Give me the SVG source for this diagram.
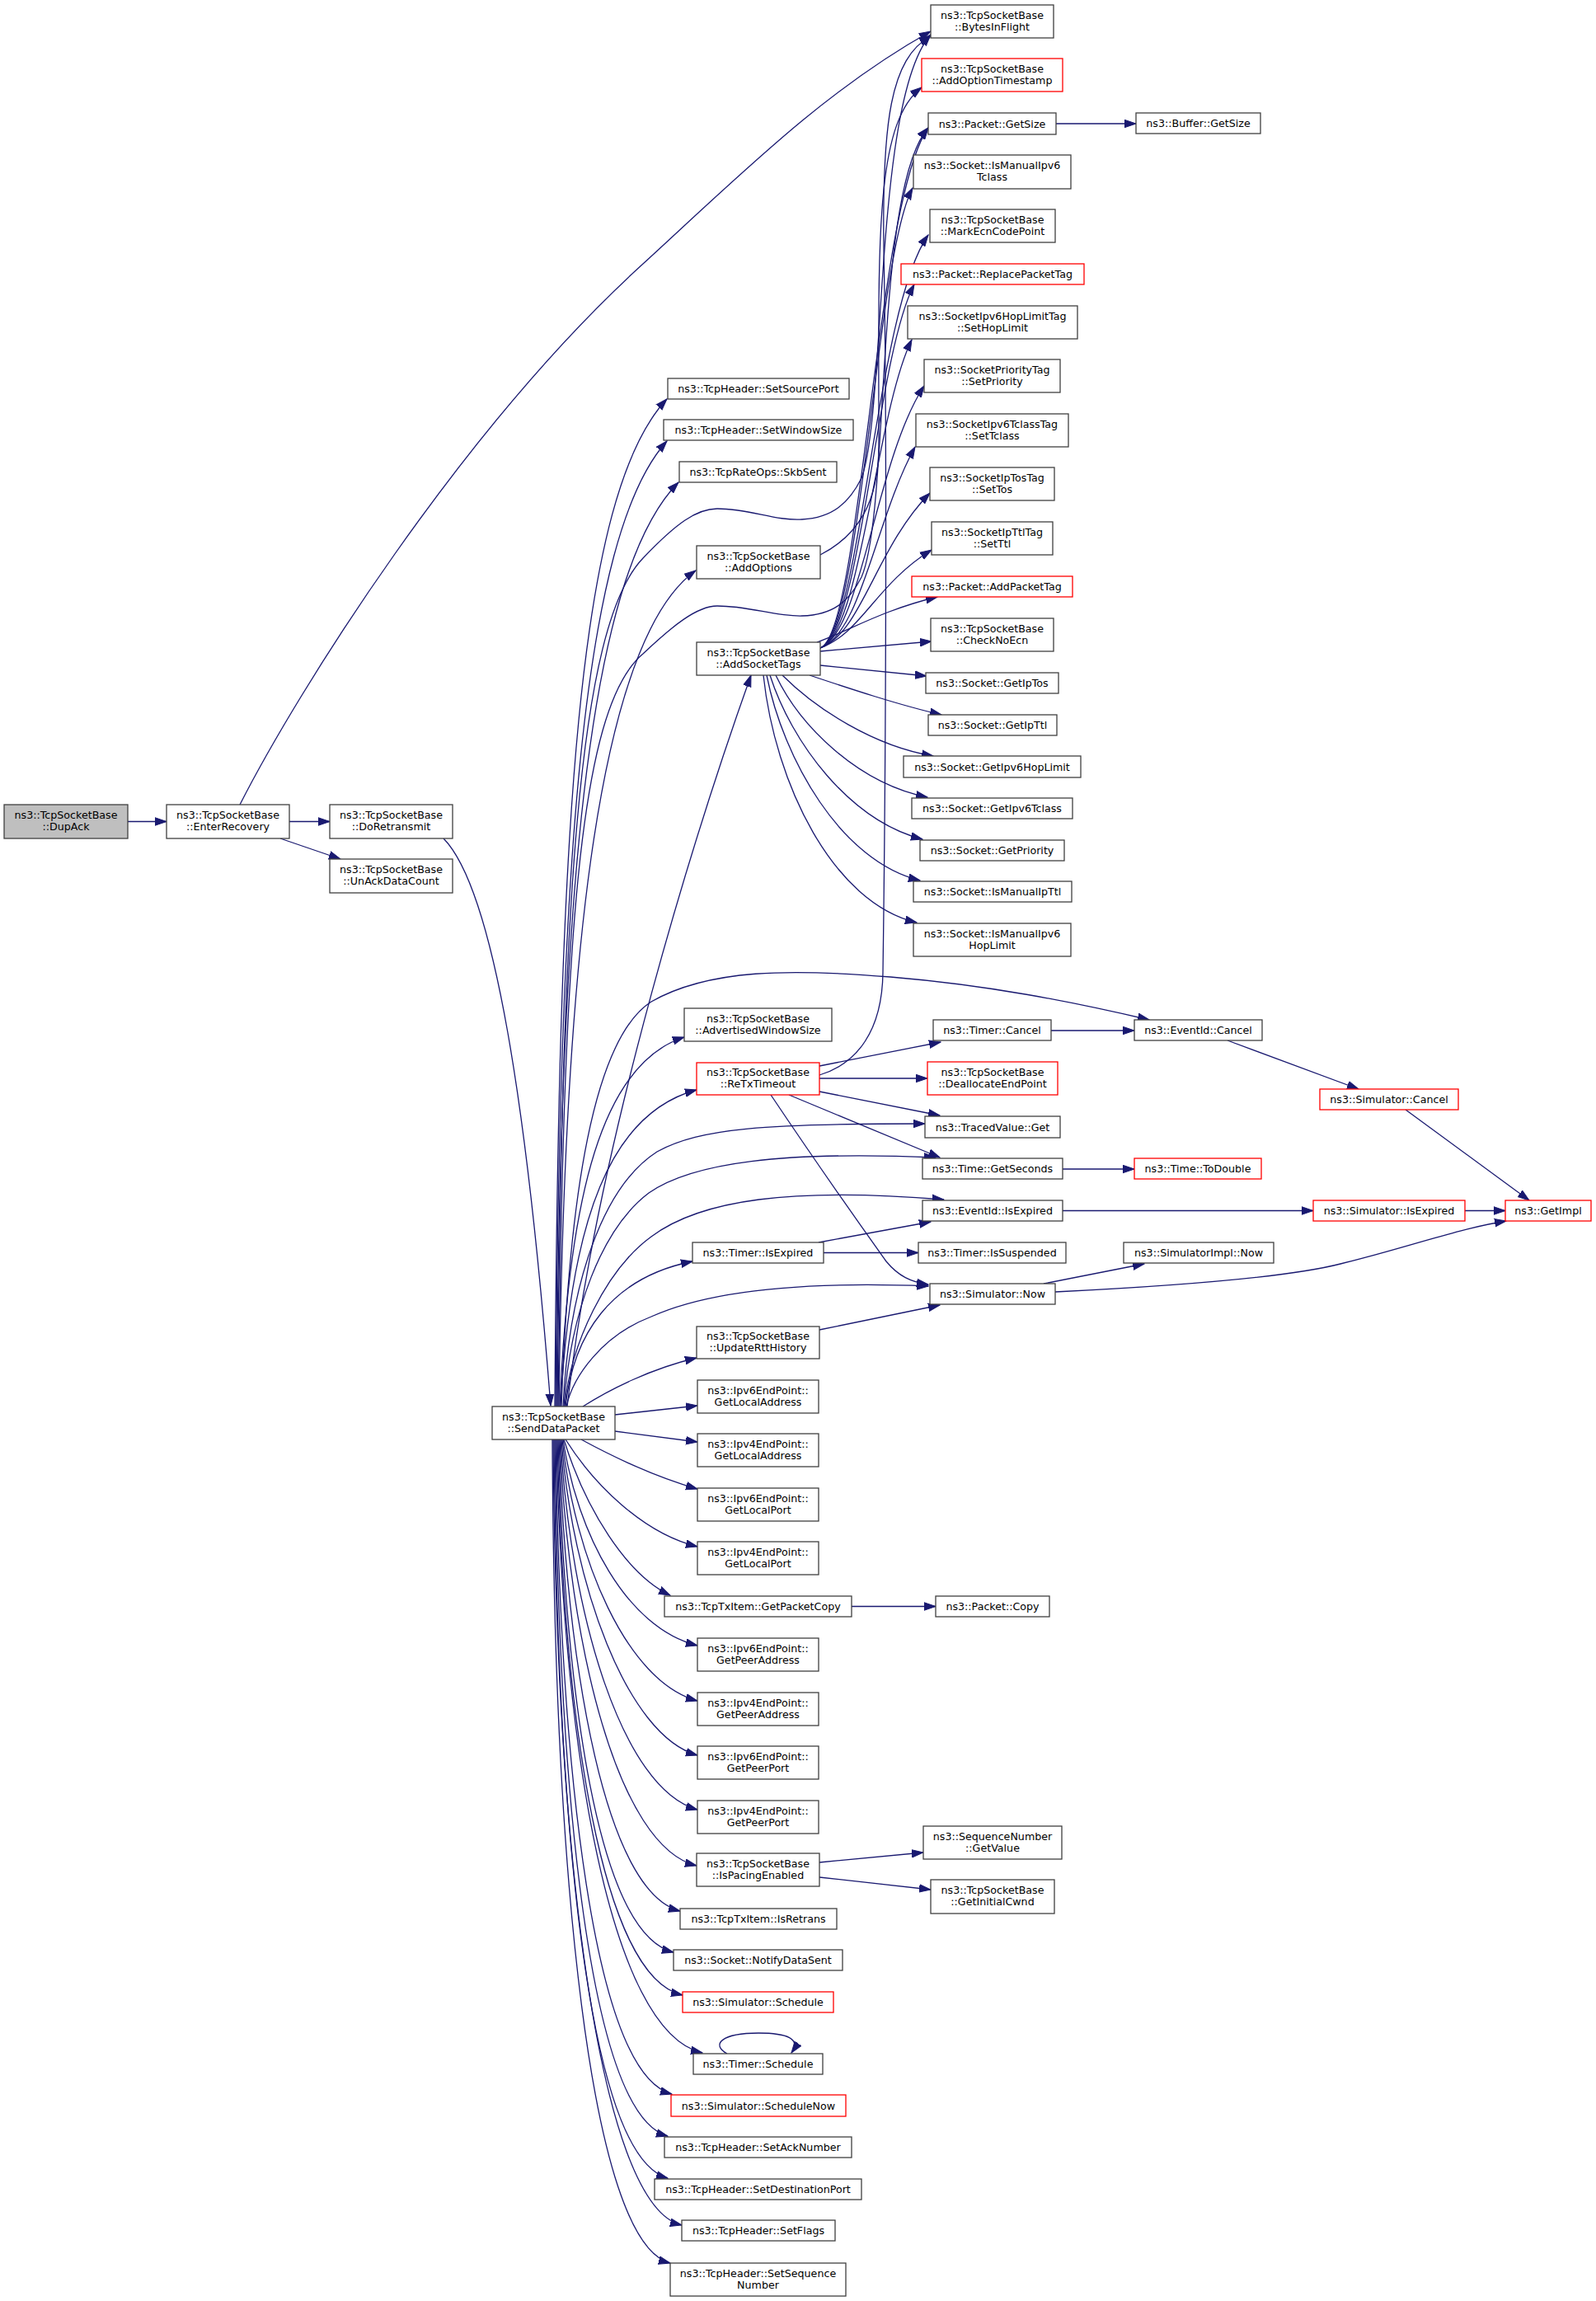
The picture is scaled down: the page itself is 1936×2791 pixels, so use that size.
<svg xmlns="http://www.w3.org/2000/svg" width="1936" height="2791" viewBox="0 0 1936 2791">
<style>
.n rect{fill:#fff;stroke:#404040;stroke-width:1.3}
.r rect{stroke:#ff0000}
.g rect{fill:#bfbfbf}
text{font-family:"DejaVu Sans","Liberation Sans",sans-serif;font-size:12.67px;text-anchor:middle;fill:#000}
#edges path{fill:none;stroke:#191970;stroke-width:1.3;marker-end:url(#a)}
</style>
<defs>
<marker id="a" markerUnits="userSpaceOnUse" markerWidth="15" markerHeight="11" viewBox="0 0 15 11" refX="14" refY="5.5" orient="auto">
<path d="M0,0.75 L14,5.5 L0,10.25 z" fill="#191970" stroke="#191970" stroke-width="1"/>
</marker>
</defs>
<rect width="1936" height="2791" fill="#fff"/>
<g id="edges">
<path d="M155,996.5 L202,996.5"/>
<path d="M291,976 C360,840 560,520 780,320 C900,210 1000,110 1129,38"/>
<path d="M351,996.5 L400,996.5"/>
<path d="M340,1017 L413,1042"/>
<path d="M538,1017 C600,1080 640,1350 668,1705"/>
<path d="M673,1706 C678,1000 700,600 809,484"/>
<path d="M674,1706 C679,1050 705,650 809,535"/>
<path d="M675,1706 C680,1100 710,700 823,585"/>
<path d="M676,1706 C682,1100 700,760 780,677 C820,635 845,617 870,617 C910,617 940,632 973,630 C1010,628 1030,610 1045,580 C1075,500 1060,120 1129,42"/>
<path d="M677,1706 C684,1150 700,860 780,793 C815,760 845,735 870,735 C910,735 940,748 973,747 C1010,746 1030,730 1045,700 C1080,620 1060,230 1126,155"/>
<path d="M678,1706 C684,1200 720,780 844,692"/>
<path d="M688,1706 C725,1380 850,990 911,819"/>
<path d="M679,1706 C690,1450 730,1290 830,1258"/>
<path d="M680,1706 C692,1480 740,1350 845,1322"/>
<path d="M681,1706 C690,1450 720,1260 790,1215 C860,1175 960,1175 1080,1185 C1200,1195 1300,1215 1394,1237"/>
<path d="M683,1706 C690,1560 730,1440 797,1397 C850,1368 930,1363 1122,1363"/>
<path d="M684,1706 C692,1590 730,1490 787,1447 C840,1410 950,1396 1135,1404"/>
<path d="M685,1706 C692,1630 735,1540 790,1500 C850,1455 960,1440 1145,1455"/>
<path d="M686,1706 C695,1620 740,1550 840,1530"/>
<path d="M687,1706 C695,1670 730,1620 790,1597 C850,1570 950,1553 1126,1560"/>
<path d="M707,1706 C740,1685 790,1660 845,1647"/>
<path d="M746,1716 L846,1705"/>
<path d="M746,1736 L846,1749"/>
<path d="M705,1746 C740,1765 790,1790 846,1806"/>
<path d="M686,1746 C720,1800 780,1860 846,1876"/>
<path d="M684,1746 C710,1830 760,1910 813,1935"/>
<path d="M683,1746 C700,1860 760,1975 846,1996"/>
<path d="M682,1746 C697,1890 760,2040 846,2063"/>
<path d="M681,1746 C694,1920 760,2105 846,2129"/>
<path d="M680,1746 C692,1960 755,2170 846,2195"/>
<path d="M679,1746 C690,2000 750,2240 845,2263"/>
<path d="M678,1746 C688,2030 735,2295 825,2318"/>
<path d="M677,1746 C686,2060 725,2345 817,2368"/>
<path d="M676,1746 C684,2090 730,2398 828,2420"/>
<path d="M675,1746 C682,2120 740,2465 852,2490"/>
<path d="M674,1746 C680,2150 720,2515 815,2540"/>
<path d="M673,1746 C678,2180 715,2565 810,2591"/>
<path d="M672,1746 C676,2210 712,2615 810,2642"/>
<path d="M671,1746 C674,2240 725,2675 827,2699"/>
<path d="M670,1746 C672,2270 715,2720 813,2745"/>
<path d="M995,673 C1040,650 1066,610 1066,540 C1066,300 1060,150 1118,106"/>
<path d="M994,1304 C1040,1290 1070,1250 1071,1180 C1075,900 1076,500 1072,300 C1070,150 1080,70 1129,44"/>
<path d="M995,786 C1045,768 1062,245 1126,155"/>
<path d="M995,786 C1045,768 1062,313 1107,228"/>
<path d="M995,786 C1045,768 1062,375 1126,285"/>
<path d="M995,786 C1045,768 1062,435 1109,345"/>
<path d="M995,786 C1045,768 1062,502 1106,412"/>
<path d="M995,786 C1045,768 1062,558 1121,468"/>
<path d="M995,786 C1045,768 1062,629 1110,542"/>
<path d="M995,786 C1045,768 1062,665 1128,598"/>
<path d="M995,786 C1045,768 1062,709 1130,667"/>
<path d="M991,779 C1030,765 1070,740 1137,724"/>
<path d="M995,790 L1130,778"/>
<path d="M995,807 L1124,820"/>
<path d="M982,819 C1030,835 1090,855 1142,867"/>
<path d="M949,819 C990,860 1060,905 1132,917"/>
<path d="M941,819 C970,880 1040,950 1125,967"/>
<path d="M934,819 C960,900 1030,995 1119,1018"/>
<path d="M930,819 C950,920 1020,1045 1116,1068"/>
<path d="M926,819 C940,950 1010,1095 1112,1119"/>
<path d="M994,1293 L1141,1264"/>
<path d="M994,1308 L1125,1308"/>
<path d="M994,1324 L1140,1353"/>
<path d="M957,1328 L1140,1404"/>
<path d="M935,1328 C990,1410 1050,1495 1075,1530 C1090,1548 1105,1555 1126,1558"/>
<path d="M1275,1250 L1376,1250"/>
<path d="M1489,1262 L1648,1321"/>
<path d="M1705,1346 L1855,1456"/>
<path d="M1289,1418 L1376,1418"/>
<path d="M1289,1468.5 L1593,1468.5"/>
<path d="M1777,1468.5 L1826,1468.5"/>
<path d="M993,1507 L1129,1482"/>
<path d="M999,1519.5 L1114,1519.5"/>
<path d="M1266,1557 L1388,1533"/>
<path d="M1280,1567 C1420,1560 1560,1550 1626,1533 C1700,1515 1770,1490 1827,1481"/>
<path d="M994,1613 L1140,1583"/>
<path d="M1033,1948.5 L1135,1948.5"/>
<path d="M994,2259 L1120,2247"/>
<path d="M994,2277 L1129,2292"/>
<path d="M1281,150 L1378,150"/>
<path d="M882,2491 C862,2480 875,2466 920,2466 C955,2466 972,2473 960,2490"/>
</g>
<g id="DupAck" class="n g"><rect x="5" y="976" width="150" height="41"/><text x="80" y="993">ns3::TcpSocketBase</text><text x="80" y="1007">::DupAck</text></g>
<g id="EnterRecovery" class="n"><rect x="202" y="976" width="149" height="41"/><text x="276.5" y="993">ns3::TcpSocketBase</text><text x="276.5" y="1007">::EnterRecovery</text></g>
<g id="DoRetransmit" class="n"><rect x="400" y="976" width="149" height="41"/><text x="474.5" y="993">ns3::TcpSocketBase</text><text x="474.5" y="1007">::DoRetransmit</text></g>
<g id="UnAckDataCount" class="n"><rect x="400" y="1042" width="149" height="41"/><text x="474.5" y="1059">ns3::TcpSocketBase</text><text x="474.5" y="1073">::UnAckDataCount</text></g>
<g id="BytesInFlight" class="n"><rect x="1129" y="6" width="149" height="40"/><text x="1203.5" y="22.5">ns3::TcpSocketBase</text><text x="1203.5" y="36.5">::BytesInFlight</text></g>
<g id="AddOptionTimestamp" class="n r"><rect x="1118" y="71" width="171" height="40"/><text x="1203.5" y="87.5">ns3::TcpSocketBase</text><text x="1203.5" y="101.5">::AddOptionTimestamp</text></g>
<g id="PacketGetSize" class="n"><rect x="1126" y="137" width="155" height="26"/><text x="1203.5" y="154.5">ns3::Packet::GetSize</text></g>
<g id="BufferGetSize" class="n"><rect x="1378" y="137" width="151" height="25"/><text x="1453.5" y="154">ns3::Buffer::GetSize</text></g>
<g id="IsManualIpv6Tclass" class="n"><rect x="1108" y="188" width="191" height="41"/><text x="1203.5" y="205">ns3::Socket::IsManualIpv6</text><text x="1203.5" y="219">Tclass</text></g>
<g id="MarkEcnCodePoint" class="n"><rect x="1128" y="254" width="152" height="40"/><text x="1204" y="270.5">ns3::TcpSocketBase</text><text x="1204" y="284.5">::MarkEcnCodePoint</text></g>
<g id="ReplacePacketTag" class="n r"><rect x="1093" y="320" width="222" height="25"/><text x="1204" y="337">ns3::Packet::ReplacePacketTag</text></g>
<g id="SetHopLimit" class="n"><rect x="1101" y="371" width="206" height="40"/><text x="1204" y="387.5">ns3::SocketIpv6HopLimitTag</text><text x="1204" y="401.5">::SetHopLimit</text></g>
<g id="SetPriority" class="n"><rect x="1121" y="436" width="165" height="40"/><text x="1203.5" y="452.5">ns3::SocketPriorityTag</text><text x="1203.5" y="466.5">::SetPriority</text></g>
<g id="SetTclass" class="n"><rect x="1111" y="502" width="185" height="40"/><text x="1203.5" y="518.5">ns3::SocketIpv6TclassTag</text><text x="1203.5" y="532.5">::SetTclass</text></g>
<g id="SetTos" class="n"><rect x="1128" y="567" width="151" height="40"/><text x="1203.5" y="583.5">ns3::SocketIpTosTag</text><text x="1203.5" y="597.5">::SetTos</text></g>
<g id="SetTtl" class="n"><rect x="1130" y="633" width="147" height="40"/><text x="1203.5" y="649.5">ns3::SocketIpTtlTag</text><text x="1203.5" y="663.5">::SetTtl</text></g>
<g id="AddPacketTag" class="n r"><rect x="1106" y="699" width="195" height="25"/><text x="1203.5" y="716">ns3::Packet::AddPacketTag</text></g>
<g id="CheckNoEcn" class="n"><rect x="1129" y="750" width="149" height="40"/><text x="1203.5" y="766.5">ns3::TcpSocketBase</text><text x="1203.5" y="780.5">::CheckNoEcn</text></g>
<g id="GetIpTos" class="n"><rect x="1123" y="816" width="161" height="25"/><text x="1203.5" y="833">ns3::Socket::GetIpTos</text></g>
<g id="GetIpTtl" class="n"><rect x="1126" y="867" width="156" height="25"/><text x="1204" y="884">ns3::Socket::GetIpTtl</text></g>
<g id="GetIpv6HopLimit" class="n"><rect x="1096" y="917" width="215" height="26"/><text x="1203.5" y="934.5">ns3::Socket::GetIpv6HopLimit</text></g>
<g id="GetIpv6Tclass" class="n"><rect x="1106" y="968" width="195" height="25"/><text x="1203.5" y="985">ns3::Socket::GetIpv6Tclass</text></g>
<g id="GetPriority" class="n"><rect x="1116" y="1019" width="175" height="25"/><text x="1203.5" y="1036">ns3::Socket::GetPriority</text></g>
<g id="IsManualIpTtl" class="n"><rect x="1108" y="1069" width="192" height="25"/><text x="1204" y="1086">ns3::Socket::IsManualIpTtl</text></g>
<g id="IsManualIpv6HopLimit" class="n"><rect x="1108" y="1120" width="191" height="40"/><text x="1203.5" y="1136.5">ns3::Socket::IsManualIpv6</text><text x="1203.5" y="1150.5">HopLimit</text></g>
<g id="SetSourcePort" class="n"><rect x="810" y="459" width="220" height="25"/><text x="920" y="476">ns3::TcpHeader::SetSourcePort</text></g>
<g id="SetWindowSize" class="n"><rect x="805" y="509" width="230" height="25"/><text x="920" y="526">ns3::TcpHeader::SetWindowSize</text></g>
<g id="SkbSent" class="n"><rect x="824" y="560" width="191" height="25"/><text x="919.5" y="577">ns3::TcpRateOps::SkbSent</text></g>
<g id="AddOptions" class="n"><rect x="845" y="662" width="150" height="40"/><text x="920" y="678.5">ns3::TcpSocketBase</text><text x="920" y="692.5">::AddOptions</text></g>
<g id="AddSocketTags" class="n"><rect x="845" y="779" width="150" height="40"/><text x="920" y="795.5">ns3::TcpSocketBase</text><text x="920" y="809.5">::AddSocketTags</text></g>
<g id="AdvertisedWindowSize" class="n"><rect x="830" y="1223" width="179" height="40"/><text x="919.5" y="1239.5">ns3::TcpSocketBase</text><text x="919.5" y="1253.5">::AdvertisedWindowSize</text></g>
<g id="ReTxTimeout" class="n r"><rect x="845" y="1289" width="149" height="39"/><text x="919.5" y="1305">ns3::TcpSocketBase</text><text x="919.5" y="1319">::ReTxTimeout</text></g>
<g id="TimerCancel" class="n"><rect x="1132" y="1237" width="143" height="25"/><text x="1203.5" y="1254">ns3::Timer::Cancel</text></g>
<g id="EventIdCancel" class="n"><rect x="1376" y="1237" width="155" height="25"/><text x="1453.5" y="1254">ns3::EventId::Cancel</text></g>
<g id="DeallocateEndPoint" class="n r"><rect x="1125" y="1288" width="158" height="40"/><text x="1204" y="1304.5">ns3::TcpSocketBase</text><text x="1204" y="1318.5">::DeallocateEndPoint</text></g>
<g id="SimulatorCancel" class="n r"><rect x="1601" y="1321" width="168" height="25"/><text x="1685" y="1338">ns3::Simulator::Cancel</text></g>
<g id="TracedValueGet" class="n"><rect x="1122" y="1354" width="164" height="26"/><text x="1204" y="1371.5">ns3::TracedValue::Get</text></g>
<g id="TimeGetSeconds" class="n"><rect x="1119" y="1405" width="170" height="25"/><text x="1204" y="1422">ns3::Time::GetSeconds</text></g>
<g id="TimeToDouble" class="n r"><rect x="1376" y="1405" width="154" height="25"/><text x="1453" y="1422">ns3::Time::ToDouble</text></g>
<g id="EventIdIsExpired" class="n"><rect x="1119" y="1456" width="170" height="25"/><text x="1204" y="1473">ns3::EventId::IsExpired</text></g>
<g id="SimulatorIsExpired" class="n r"><rect x="1593" y="1456" width="184" height="25"/><text x="1685" y="1473">ns3::Simulator::IsExpired</text></g>
<g id="GetImpl" class="n r"><rect x="1826" y="1456" width="104" height="25"/><text x="1878" y="1473">ns3::GetImpl</text></g>
<g id="TimerIsExpired" class="n"><rect x="840" y="1507" width="159" height="25"/><text x="919.5" y="1524">ns3::Timer::IsExpired</text></g>
<g id="TimerIsSuspended" class="n"><rect x="1114" y="1507" width="179" height="25"/><text x="1203.5" y="1524">ns3::Timer::IsSuspended</text></g>
<g id="SimulatorImplNow" class="n"><rect x="1363" y="1507" width="182" height="25"/><text x="1454" y="1524">ns3::SimulatorImpl::Now</text></g>
<g id="SimulatorNow" class="n"><rect x="1128" y="1557" width="152" height="25"/><text x="1204" y="1574">ns3::Simulator::Now</text></g>
<g id="UpdateRttHistory" class="n"><rect x="845" y="1609" width="149" height="39"/><text x="919.5" y="1625">ns3::TcpSocketBase</text><text x="919.5" y="1639">::UpdateRttHistory</text></g>
<g id="SendDataPacket" class="n"><rect x="597" y="1706" width="149" height="40"/><text x="671.5" y="1722.5">ns3::TcpSocketBase</text><text x="671.5" y="1736.5">::SendDataPacket</text></g>
<g id="Ipv6GetLocalAddress" class="n"><rect x="846" y="1674" width="147" height="40"/><text x="919.5" y="1690.5">ns3::Ipv6EndPoint::</text><text x="919.5" y="1704.5">GetLocalAddress</text></g>
<g id="Ipv4GetLocalAddress" class="n"><rect x="846" y="1739" width="147" height="40"/><text x="919.5" y="1755.5">ns3::Ipv4EndPoint::</text><text x="919.5" y="1769.5">GetLocalAddress</text></g>
<g id="Ipv6GetLocalPort" class="n"><rect x="846" y="1805" width="147" height="40"/><text x="919.5" y="1821.5">ns3::Ipv6EndPoint::</text><text x="919.5" y="1835.5">GetLocalPort</text></g>
<g id="Ipv4GetLocalPort" class="n"><rect x="846" y="1870" width="147" height="40"/><text x="919.5" y="1886.5">ns3::Ipv4EndPoint::</text><text x="919.5" y="1900.5">GetLocalPort</text></g>
<g id="GetPacketCopy" class="n"><rect x="806" y="1936" width="227" height="25"/><text x="919.5" y="1953">ns3::TcpTxItem::GetPacketCopy</text></g>
<g id="PacketCopy" class="n"><rect x="1135" y="1936" width="138" height="25"/><text x="1204" y="1953">ns3::Packet::Copy</text></g>
<g id="Ipv6GetPeerAddress" class="n"><rect x="846" y="1987" width="147" height="40"/><text x="919.5" y="2003.5">ns3::Ipv6EndPoint::</text><text x="919.5" y="2017.5">GetPeerAddress</text></g>
<g id="Ipv4GetPeerAddress" class="n"><rect x="846" y="2053" width="147" height="40"/><text x="919.5" y="2069.5">ns3::Ipv4EndPoint::</text><text x="919.5" y="2083.5">GetPeerAddress</text></g>
<g id="Ipv6GetPeerPort" class="n"><rect x="846" y="2118" width="147" height="40"/><text x="919.5" y="2134.5">ns3::Ipv6EndPoint::</text><text x="919.5" y="2148.5">GetPeerPort</text></g>
<g id="Ipv4GetPeerPort" class="n"><rect x="846" y="2184" width="147" height="40"/><text x="919.5" y="2200.5">ns3::Ipv4EndPoint::</text><text x="919.5" y="2214.5">GetPeerPort</text></g>
<g id="IsPacingEnabled" class="n"><rect x="845" y="2248" width="149" height="40"/><text x="919.5" y="2264.5">ns3::TcpSocketBase</text><text x="919.5" y="2278.5">::IsPacingEnabled</text></g>
<g id="GetValue" class="n"><rect x="1120" y="2215" width="168" height="40"/><text x="1204" y="2231.5">ns3::SequenceNumber</text><text x="1204" y="2245.5">::GetValue</text></g>
<g id="GetInitialCwnd" class="n"><rect x="1129" y="2280" width="150" height="41"/><text x="1204" y="2297">ns3::TcpSocketBase</text><text x="1204" y="2311">::GetInitialCwnd</text></g>
<g id="IsRetrans" class="n"><rect x="825" y="2315" width="190" height="25"/><text x="920" y="2332">ns3::TcpTxItem::IsRetrans</text></g>
<g id="NotifyDataSent" class="n"><rect x="817" y="2365" width="205" height="25"/><text x="919.5" y="2382">ns3::Socket::NotifyDataSent</text></g>
<g id="SimulatorSchedule" class="n r"><rect x="828" y="2416" width="183" height="25"/><text x="919.5" y="2433">ns3::Simulator::Schedule</text></g>
<g id="TimerSchedule" class="n"><rect x="841" y="2491" width="157" height="25"/><text x="919.5" y="2508">ns3::Timer::Schedule</text></g>
<g id="ScheduleNow" class="n r"><rect x="814" y="2541" width="212" height="26"/><text x="920" y="2558.5">ns3::Simulator::ScheduleNow</text></g>
<g id="SetAckNumber" class="n"><rect x="806" y="2592" width="227" height="25"/><text x="919.5" y="2609">ns3::TcpHeader::SetAckNumber</text></g>
<g id="SetDestinationPort" class="n"><rect x="794" y="2643" width="251" height="25"/><text x="919.5" y="2660">ns3::TcpHeader::SetDestinationPort</text></g>
<g id="SetFlags" class="n"><rect x="827" y="2693" width="186" height="25"/><text x="920" y="2710">ns3::TcpHeader::SetFlags</text></g>
<g id="SetSequenceNumber" class="n"><rect x="813" y="2745" width="213" height="40"/><text x="919.5" y="2761.5">ns3::TcpHeader::SetSequence</text><text x="919.5" y="2775.5">Number</text></g>
</svg>
